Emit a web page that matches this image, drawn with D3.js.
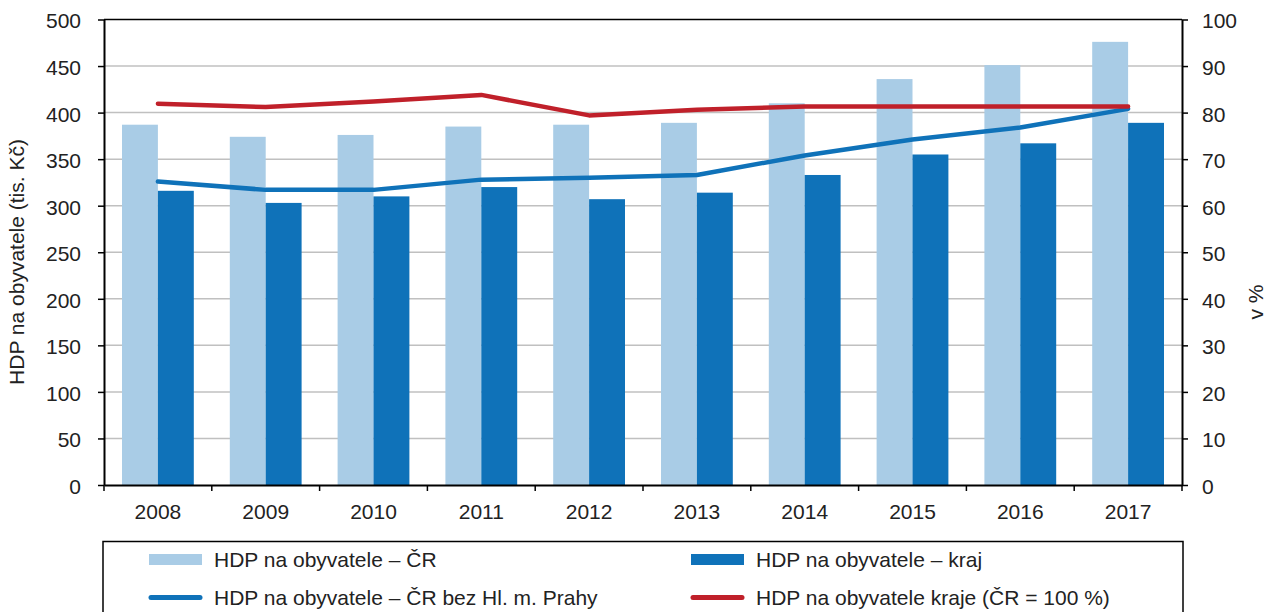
<!DOCTYPE html>
<meta charset="utf-8">
<style>
body { margin: 0; background: #fff; }
svg text { font-family: "Liberation Sans", Arial, sans-serif; fill: #222; }
.axis text { font-size: 21px; }
.axis path, .axis line { stroke: #000; }
.axis path { stroke-width: 2px; }
.axis line { stroke-width: 1.5px; }
.grid line { stroke: #c0c0c0; stroke-width: 1.5px; }
</style>
<body>
<script src="https://d3js.org/d3.v7.min.js"></script>
<script>
// data
var years = [2008, 2009, 2010, 2011, 2012, 2013, 2014, 2015, 2016, 2017];
var hdpCR = [387, 374, 376, 385, 387, 389, 410, 436, 451, 476];          // tis. Kč
var hdpKraj = [316, 303, 310, 320, 307, 314, 333, 355, 367, 389];        // tis. Kč
var hdpBezPrahy = [326, 317, 317, 328, 330, 333, 354, 371, 384, 404];    // tis. Kč
var krajPct = [81.9, 81.2, 82.4, 83.8, 79.4, 80.6, 81.3, 81.3, 81.3, 81.3]; // %

var leftTicks = [0, 50, 100, 150, 200, 250, 300, 350, 400, 450, 500];
var rightTicks = [0, 10, 20, 30, 40, 50, 60, 70, 80, 90, 100];

var legendItems = [
  {label: "HDP na obyvatele – ČR", type: "bar", color: "#a9cce6"},
  {label: "HDP na obyvatele – kraj", type: "bar", color: "#0f72b9"},
  {label: "HDP na obyvatele – ČR bez Hl. m. Prahy", type: "line", color: "#0f72b9"},
  {label: "HDP na obyvatele kraje (ČR = 100 %)", type: "line", color: "#c0202a"}
];

var width = 1267, height = 612;
var plotLeft = 104, plotRight = 1182, plotTop = 19.5, plotBottom = 485;

var svg = d3.select("body").append("svg")
    .attr("width", width)
    .attr("height", height);

var x0 = d3.scaleBand().domain(years).range([plotLeft, plotRight]);
var x1 = d3.scaleBand().domain(["cr", "kraj"]).range([18, x0.bandwidth() - 18]);
var yL = d3.scaleLinear().domain([0, 500]).range([plotBottom, plotTop]);
var yR = d3.scaleLinear().domain([0, 100]).range([plotBottom, plotTop]);

// gridlines
svg.append("g").attr("class", "grid")
  .selectAll("line")
  .data(leftTicks.filter(function(d) { return d > 0 && d < 500; }))
  .enter().append("line")
    .attr("x1", plotLeft).attr("x2", plotRight)
    .attr("y1", function(d) { return yL(d); })
    .attr("y2", function(d) { return yL(d); });

// top frame line
svg.append("line")
  .attr("x1", plotLeft).attr("x2", plotRight)
  .attr("y1", plotTop).attr("y2", plotTop)
  .attr("stroke", "#000").attr("stroke-width", 1.5);

// bars
var groups = svg.append("g").selectAll("g")
  .data(years)
  .enter().append("g")
    .attr("transform", function(d) { return "translate(" + x0(d) + ",0)"; });

groups.append("rect")
  .attr("x", x1("cr"))
  .attr("width", x1.bandwidth())
  .attr("y", function(d, i) { return yL(hdpCR[i]); })
  .attr("height", function(d, i) { return plotBottom - yL(hdpCR[i]); })
  .attr("fill", "#a9cce6");

groups.append("rect")
  .attr("x", x1("kraj"))
  .attr("width", x1.bandwidth())
  .attr("y", function(d, i) { return yL(hdpKraj[i]); })
  .attr("height", function(d, i) { return plotBottom - yL(hdpKraj[i]); })
  .attr("fill", "#0f72b9");

// lines
var cx = function(d, i) { return x0(years[i]) + x0.bandwidth() / 2; };

svg.append("path")
  .datum(hdpBezPrahy)
  .attr("fill", "none")
  .attr("stroke", "#0f72b9")
  .attr("stroke-width", 4.5)
  .attr("stroke-linecap", "round")
  .attr("stroke-linejoin", "round")
  .attr("d", d3.line().x(cx).y(function(d) { return yL(d); }));

svg.append("path")
  .datum(krajPct)
  .attr("fill", "none")
  .attr("stroke", "#c0202a")
  .attr("stroke-width", 4.5)
  .attr("stroke-linecap", "round")
  .attr("stroke-linejoin", "round")
  .attr("d", d3.line().x(cx).y(function(d) { return yR(d); }));

// axes
var axL = svg.append("g").attr("class", "axis")
  .attr("transform", "translate(" + plotLeft + ",0)")
  .call(d3.axisLeft(yL).tickValues(leftTicks).tickSizeInner(6).tickSizeOuter(0).tickPadding(17));
axL.selectAll("text").attr("dy", "0.4em");

var axR = svg.append("g").attr("class", "axis")
  .attr("transform", "translate(" + plotRight + ",0)")
  .call(d3.axisRight(yR).tickValues(rightTicks).tickSizeInner(6).tickSizeOuter(0).tickPadding(14));
axR.selectAll("text").attr("dy", "0.4em");

var axB = svg.append("g").attr("class", "axis")
  .attr("transform", "translate(0," + plotBottom + ")")
  .call(d3.axisBottom(x0).tickSizeInner(0).tickSizeOuter(0).tickPadding(19));

// category boundary ticks
var edges = years.map(function(d) { return x0(d); }).concat([x0.range()[1]]);
axB.selectAll(".edge")
  .data(edges)
  .enter().append("line")
    .attr("class", "edge")
    .attr("x1", function(d) { return d; }).attr("x2", function(d) { return d; })
    .attr("y1", 0).attr("y2", 6);

// axis titles
svg.append("text")
  .attr("transform", "translate(24,262) rotate(-90)")
  .attr("text-anchor", "middle")
  .style("font-size", "21px")
  .text("HDP na obyvatele (tis. Kč)");

svg.append("text")
  .attr("transform", "translate(1263,302) rotate(-90)")
  .attr("text-anchor", "middle")
  .style("font-size", "21px")
  .text("v %");

// legend
var lg = svg.append("g");
lg.append("rect")
  .attr("x", 103).attr("y", 541.5)
  .attr("width", 1080).attr("height", 100)
  .attr("fill", "none").attr("stroke", "#000").attr("stroke-width", 1.5);

var legX = [149, 691], legY = [559.5, 597.5];
var li = lg.selectAll(".li")
  .data(legendItems)
  .enter().append("g")
    .attr("transform", function(d, i) {
      return "translate(" + legX[i % 2] + "," + legY[Math.floor(i / 2)] + ")";
    });

li.filter(function(d) { return d.type === "bar"; })
  .append("rect")
    .attr("x", 0).attr("y", -5.5)
    .attr("width", 53).attr("height", 11)
    .attr("fill", function(d) { return d.color; });

li.filter(function(d) { return d.type === "line"; })
  .append("line")
    .attr("x1", 2).attr("x2", 51)
    .attr("stroke", function(d) { return d.color; })
    .attr("stroke-width", 5)
    .attr("stroke-linecap", "round");

li.append("text")
  .attr("x", 65)
  .attr("dy", "0.36em")
  .style("font-size", "21px")
  .text(function(d) { return d.label; });
</script>
